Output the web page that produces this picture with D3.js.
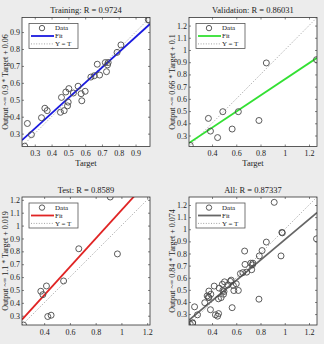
<!DOCTYPE html>
<html>
<head>
<meta charset="utf-8">
<script src="https://cdn.jsdelivr.net/npm/d3@7"></script>
<style>
  body { margin: 0; background: #ececec; }
  text { font-family: "Liberation Serif", "DejaVu Serif", serif; fill: #222; }
</style>
</head>
<body>
<svg id="chart" width="324" height="344"></svg>
<script>
// Training set
const trainTarget = [0.240, 0.256, 0.280, 0.340, 0.360, 0.374, 0.453, 0.475, 0.459, 0.485,
                     0.503, 0.495, 0.499, 0.530, 0.558, 0.576, 0.580, 0.600, 0.634, 0.654,
                     0.672, 0.686, 0.720, 0.727, 0.733, 0.737, 0.790, 0.813, 0.976, 0.980];
const trainOutput = [0.226, 0.360, 0.294, 0.394, 0.450, 0.436, 0.426, 0.436, 0.514, 0.546,
                     0.566, 0.464, 0.486, 0.540, 0.580, 0.536, 0.494, 0.550, 0.634, 0.642,
                     0.710, 0.646, 0.720, 0.666, 0.706, 0.720, 0.780, 0.824, 0.974, 0.970];
// Validation set
const valTarget = [0.220, 0.370, 0.387, 0.446, 0.489, 0.566, 0.617, 0.787, 0.848, 1.262];
const valOutput = [0.219, 0.440, 0.336, 0.283, 0.495, 0.353, 0.495, 0.423, 0.894, 0.921];
// Test set
const testTarget = [0.240, 0.374, 0.390, 0.418, 0.428, 0.454, 0.551, 0.669, 0.913, 0.969];
const testOutput = [0.228, 0.490, 0.464, 0.531, 0.294, 0.304, 0.570, 0.820, 1.222, 0.780];

const titles = ["Training: R = 0.9724", "Validation: R = 0.86031", "Test: R = 0.8589", "All: R = 0.87337"];
const fitSlopes = [0.9, 0.66, 1.1, 0.84];
const fitIntercepts = [0.06, 0.1, 0.019, 0.074];
const fitColors = ["#1a1adf", "#33e033", "#e02424", "#666666"];
const limits = [[0.224, 0.986], [0.21, 1.266], [0.228, 1.222], [0.21, 1.266]];
const xTicks = [[0.3, 0.4, 0.5, 0.6, 0.7, 0.8, 0.9], [0.4, 0.6, 0.8, 1, 1.2],
                [0.4, 0.6, 0.8, 1, 1.2], [0.4, 0.6, 0.8, 1, 1.2]];
const yTicks = [[0.3, 0.4, 0.5, 0.6, 0.7, 0.8, 0.9], [0.3, 0.4, 0.5, 0.6, 0.7, 0.8, 0.9, 1, 1.1, 1.2],
                [0.3, 0.4, 0.5, 0.6, 0.7, 0.8, 0.9, 1, 1.1, 1.2], [0.3, 0.4, 0.5, 0.6, 0.7, 0.8, 0.9, 1, 1.1, 1.2]];
const legendLabels = ["Data", "Fit", "Y = T"];

const svg = d3.select("#chart");
const boxes = [
  {x: 22, y: 17.5, w: 128, h: 129},
  {x: 189, y: 17.5, w: 128, h: 129},
  {x: 22, y: 197, w: 128, h: 128},
  {x: 189, y: 197, w: 128, h: 128}
];

const sets = [
  {t: trainTarget, o: trainOutput},
  {t: valTarget, o: valOutput},
  {t: testTarget, o: testOutput},
  {t: trainTarget.concat(valTarget, testTarget), o: trainOutput.concat(valOutput, testOutput)}
];

const fmt = d => (d === 1 ? "1" : d3.format(".1f")(d));

boxes.forEach((b, i) => {
  const x = d3.scaleLinear().domain(limits[i]).range([b.x, b.x + b.w]);
  const y = d3.scaleLinear().domain(limits[i]).range([b.y + b.h, b.y]);
  const g = svg.append("g");

  g.append("clipPath").attr("id", "clip" + i)
    .append("rect").attr("x", b.x).attr("y", b.y).attr("width", b.w).attr("height", b.h);

  g.append("rect").attr("x", b.x).attr("y", b.y).attr("width", b.w).attr("height", b.h)
    .attr("fill", "#fff");

  // axes with inward ticks, top and right mirrored
  const bottom = g.append("g").attr("transform", "translate(0," + (b.y + b.h) + ")")
    .call(d3.axisBottom(x).tickValues(xTicks[i]).tickSize(-2).tickPadding(4).tickFormat(fmt));
  const left = g.append("g").attr("transform", "translate(" + b.x + ",0)")
    .call(d3.axisLeft(y).tickValues(yTicks[i]).tickSize(-2).tickPadding(2).tickFormat(fmt));
  g.append("g").attr("transform", "translate(0," + b.y + ")")
    .call(d3.axisTop(x).tickValues(xTicks[i]).tickSize(-2).tickFormat(""));
  g.append("g").attr("transform", "translate(" + (b.x + b.w) + ",0)")
    .call(d3.axisRight(y).tickValues(yTicks[i]).tickSize(-2).tickFormat(""));
  g.selectAll(".domain").remove();
  g.selectAll(".tick line").attr("stroke", "#333").attr("stroke-width", 0.6);
  [bottom, left].forEach(a => a.selectAll("text")
    .style("font-family", '"Liberation Serif", serif').style("font-size", "8px").attr("fill", "#222"));
  bottom.selectAll("text").attr("dy", "0.7em");

  const plot = g.append("g").attr("clip-path", "url(#clip" + i + ")");

  // Y = T
  plot.append("line")
    .attr("x1", x(limits[i][0])).attr("y1", y(limits[i][0]))
    .attr("x2", x(limits[i][1])).attr("y2", y(limits[i][1]))
    .attr("stroke", "#8a8a8a").attr("stroke-width", 0.8).attr("stroke-dasharray", "1,1.6");

  // fit line
  const f = v => fitSlopes[i] * v + fitIntercepts[i];
  plot.append("line")
    .attr("x1", x(limits[i][0])).attr("y1", y(f(limits[i][0])))
    .attr("x2", x(limits[i][1])).attr("y2", y(f(limits[i][1])))
    .attr("stroke", fitColors[i]).attr("stroke-width", 1.8);

  // data circles
  plot.selectAll("circle.pt").data(d3.range(sets[i].t.length)).enter()
    .append("circle").attr("class", "pt")
    .attr("cx", k => x(sets[i].t[k])).attr("cy", k => y(sets[i].o[k]))
    .attr("r", 3).attr("fill", "none").attr("stroke", "#4a4a4a").attr("stroke-width", 0.9);

  // frame
  g.append("rect").attr("x", b.x).attr("y", b.y).attr("width", b.w).attr("height", b.h)
    .attr("fill", "none").attr("stroke", "#333").attr("stroke-width", 0.8);

  // legend
  const lx = b.x + 7, ly = b.y + 6;
  const lg = g.append("g");
  lg.append("rect").attr("x", lx).attr("y", ly).attr("width", 49).attr("height", 25)
    .attr("fill", "#fff").attr("stroke", "#555").attr("stroke-width", 0.8);
  const rows = [ly + 4.6, ly + 12.5, ly + 20.4];
  lg.append("circle").attr("cx", lx + 13).attr("cy", rows[0]).attr("r", 2.7)
    .attr("fill", "none").attr("stroke", "#4a4a4a").attr("stroke-width", 0.9);
  lg.append("line").attr("x1", lx + 2).attr("x2", lx + 25).attr("y1", rows[1]).attr("y2", rows[1])
    .attr("stroke", fitColors[i]).attr("stroke-width", 1.8);
  lg.append("line").attr("x1", lx + 2).attr("x2", lx + 25).attr("y1", rows[2]).attr("y2", rows[2])
    .attr("stroke", "#8a8a8a").attr("stroke-width", 0.8).attr("stroke-dasharray", "1,1.6");
  legendLabels.forEach((t, k) => {
    lg.append("text").attr("x", lx + 26).attr("y", rows[k]).attr("dy", "0.33em")
      .style("font-size", "7px").text(t);
  });

  // titles and labels
  g.append("text").attr("x", b.x + b.w / 2).attr("y", b.y - 4.5).attr("text-anchor", "middle")
    .style("font-size", "8.5px").text(titles[i]);
  if (i < 2) {
    // the bottom row's "Target" falls below the picture's edge
    g.append("text").attr("x", b.x + b.w / 2).attr("y", b.y + b.h + 19.5).attr("text-anchor", "middle")
      .style("font-size", "8.5px").text("Target");
  }
  g.append("text")
    .attr("transform", "translate(" + (b.x - 14) + "," + (b.y + b.h / 2) + ") rotate(-90)")
    .attr("text-anchor", "middle").style("font-size", "8px")
    .text("Output ~= " + fitSlopes[i] + " * Target + " + fitIntercepts[i]);
});
</script>
</body>
</html>
